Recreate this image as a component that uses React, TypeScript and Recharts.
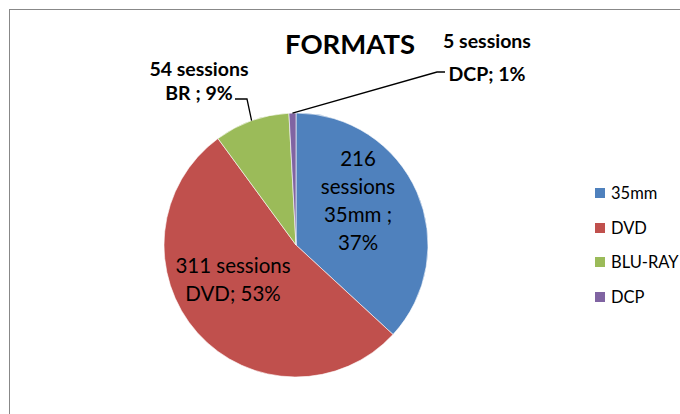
import React from 'react';
import { PieChart, Pie, Cell, Legend } from 'recharts';

const formats = ['35mm', 'DVD', 'BLU-RAY', 'DCP'];
const sessions = [216, 311, 54, 5];
const shortNames = ['35mm ;', 'DVD;', 'BR ;', 'DCP;'];
const colors = ['#4F81BD', '#C0504D', '#9BBB59', '#8064A2'];

const total = sessions.reduce((a, b) => a + b, 0);
const data = formats.map((f, i) => ({
  name: f,
  value: sessions[i],
  pct: Math.round((sessions[i] / total) * 100),
}));

const FONT = 'Lato, "Open Sans", sans-serif';
const CX = 296;
const CY = 245;
const R = 132;

// label placement relative to pie centre
const labelLayout = [
  { dx: 62, dy: -87, gap: 28, bold: false, size: 20.5 },
  { dx: -63, dy: 20, gap: 28, bold: false, size: 20.5 },
  { dx: -97, dy: -177, gap: 24, bold: true, size: 19.5 },
  { dx: 191, dy: -205, gap: 33, bold: true, size: 19.5 },
];
// elbow points of leader lines (outside labels only)
const leaders: Record<number, [number, number][]> = {
  2: [[-49, -146], [-61, -146]],
  3: [[141, -173], [149, -173]],
};

const labelLines = (i: number) => {
  const d = data[i];
  if (i === 0) return [`${d.value}`, 'sessions', shortNames[i], `${d.pct}%`];
  return [`${d.value} sessions`, `${shortNames[i]} ${d.pct}%`];
};

const renderLabel = (props: any) => {
  const { cx, cy, midAngle, outerRadius, index } = props;
  const lay = labelLayout[index];
  const lines = labelLines(index);
  const rad = (-midAngle * Math.PI) / 180;
  const ex = cx + outerRadius * Math.cos(rad);
  const ey = cy + outerRadius * Math.sin(rad);
  const pts = leaders[index];
  return (
    <g key={`lbl-${index}`}>
      {pts && (
        <polyline
          points={[[ex, ey], ...pts.map(([x, y]) => [cx + x, cy + y])].map((p) => p.join(',')).join(' ')}
          fill="none"
          stroke="#000"
          strokeWidth={1.3}
        />
      )}
      {lines.map((t, k) => (
        <text
          key={k}
          x={cx + lay.dx}
          y={cy + lay.dy + k * lay.gap}
          textAnchor="middle"
          dominantBaseline="central"
          fontFamily={FONT}
          fontSize={lay.size}
          fontWeight={lay.bold ? 700 : 400}
          fill="#000"
        >
          {t}
        </text>
      ))}
    </g>
  );
};

const LegendContent = () => (
  <div style={{ fontFamily: FONT, fontSize: 16.5, color: '#000' }}>
    {data.map((d, i) => (
      <div key={d.name} style={{ display: 'flex', alignItems: 'center', height: 34.5 }}>
        <span style={{ width: 10, height: 10, background: colors[i], marginRight: 6 }} />
        <span>{d.name}</span>
      </div>
    ))}
  </div>
);

export default function App() {
  return (
    <div style={{ position: 'absolute', left: 0, top: 0, width: 680, height: 414, overflow: 'hidden', background: '#fff' }}>
      <div
        style={{
          position: 'absolute', left: 9, top: 9, width: 700, height: 440,
          border: '1px solid #888', boxSizing: 'border-box',
        }}
      />
      <div
        style={{
          position: 'absolute', left: 0, width: 700, top: 27, textAlign: 'center',
          fontFamily: FONT, fontWeight: 700, fontSize: 27.5, color: '#000',
        }}
      >
        FORMATS
      </div>
      <PieChart width={680} height={414} margin={{ top: 0, right: 0, bottom: 0, left: 0 }} style={{ position: 'absolute', left: 0, top: 0 }}>
        <Pie
          data={data}
          dataKey="value"
          nameKey="name"
          cx={CX}
          cy={CY}
          outerRadius={R}
          startAngle={90}
          endAngle={-270}
          stroke="#fff"
          strokeWidth={0.6}
          label={renderLabel}
          labelLine={false}
          isAnimationActive={false}
        >
          {data.map((d, i) => (
            <Cell key={d.name} fill={colors[i]} />
          ))}
        </Pie>
        <Legend
          layout="vertical"
          content={<LegendContent />}
          wrapperStyle={{ position: 'absolute', left: 595, top: 176, width: 85 }}
        />
      </PieChart>
    </div>
  );
}
